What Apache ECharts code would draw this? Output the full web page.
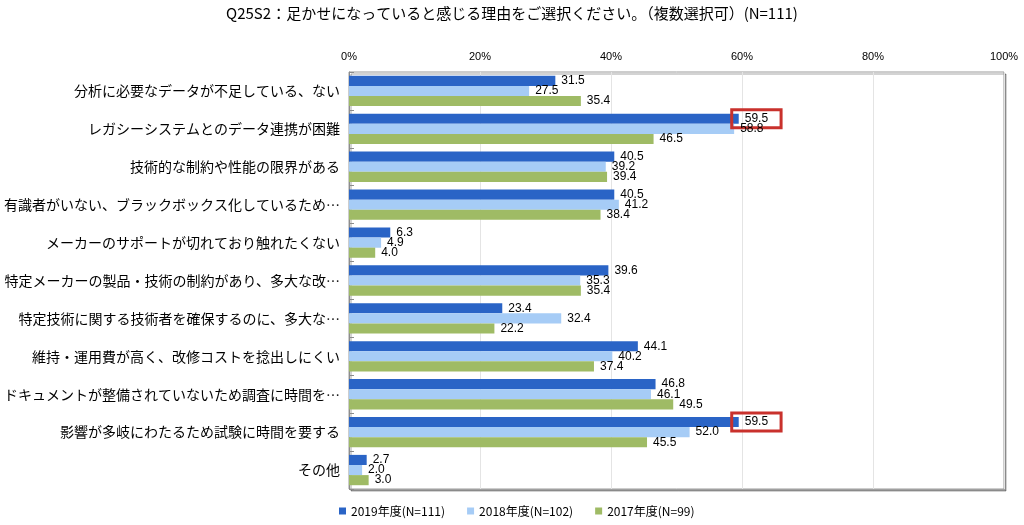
<!DOCTYPE html>
<html>
<head>
<meta charset="utf-8">
<script src="https://cdn.jsdelivr.net/npm/echarts@6/dist/echarts.min.js"></script>
<style>html,body{margin:0;padding:0;background:#fff;}#c{width:1024px;height:525px;}</style>
</head>
<body>
<div id="c"></div>
<script>
const categories = [
  '分析に必要なデータが不足している、ない',
  'レガシーシステムとのデータ連携が困難',
  '技術的な制約や性能の限界がある',
  '有識者がいない、ブラックボックス化しているため…',
  'メーカーのサポートが切れており触れたくない',
  '特定メーカーの製品・技術の制約があり、多大な改…',
  '特定技術に関する技術者を確保するのに、多大な…',
  '維持・運用費が高く、改修コストを捻出しにくい',
  'ドキュメントが整備されていないため調査に時間を…',
  '影響が多岐にわたるため試験に時間を要する',
  'その他'
];
const seriesNames = ['2019年度(N=111)', '2018年度(N=102)', '2017年度(N=99)'];
const v2019 = [31.5, 59.5, 40.5, 40.5, 6.3, 39.6, 23.4, 44.1, 46.8, 59.5, 2.7];
const v2018 = [27.5, 58.8, 39.2, 41.2, 4.9, 35.3, 32.4, 40.2, 46.1, 52.0, 2.0];
const v2017 = [35.4, 46.5, 39.4, 38.4, 4.0, 35.4, 22.2, 37.4, 49.5, 45.5, 3.0];
const highlighted = [1, 9];
const xTicks = [0, 20, 40, 60, 80, 100];

const FONT = '"Noto Sans CJK JP", sans-serif';
const NUMFONT = '"Liberation Sans", Arial, sans-serif';
const colors = ['#2a64c6', '#a6ccf6', '#9fbb65'];

function mk(vals, idx) {
  return vals.map((v, i) => {
    if (idx === 0 && highlighted.indexOf(i) >= 0) {
      return {
        value: v,
        label: {
          borderColor: '#c9312c', borderWidth: 3,
          padding: [3, 13, 3, 13], offset: [-13, 0]
        }
      };
    }
    return v;
  });
}

const chart = echarts.init(document.getElementById('c'));
chart.setOption({
  animation: false,
  textStyle: { fontFamily: FONT },
  title: {
    text: 'Q25S2：足かせになっていると感じる理由をご選択ください。（複数選択可）(N=111)',
    left: 'center', top: 1,
    textStyle: { fontFamily: FONT, fontSize: 15, fontWeight: 'normal', color: '#000' }
  },
  legend: {
    bottom: 3, left: 334,
    icon: 'rect', itemWidth: 7, itemHeight: 7, itemGap: 22,
    textStyle: { fontFamily: FONT, fontSize: 12, color: '#000' },
    data: seriesNames
  },
  grid: {
    left: 349, right: 20, top: 72, bottom: 36,
    show: true, borderColor: '#9a9a9a', borderWidth: 1,
    backgroundColor: '#fff',
    shadowColor: 'rgba(0,0,0,0.35)', shadowOffsetX: 2, shadowOffsetY: 2, shadowBlur: 0
  },
  xAxis: {
    type: 'value', position: 'top', min: 0, max: 100, interval: 20,
    axisLine: { show: false }, axisTick: { show: false },
    axisLabel: { formatter: v => xTicks.indexOf(v) >= 0 ? v + '%' : '', fontSize: 11, color: '#000', margin: 10, fontFamily: NUMFONT },
    splitLine: { lineStyle: { color: '#e4e4e4' } }
  },
  yAxis: {
    type: 'category', inverse: true, data: categories,
    axisLine: { show: true, lineStyle: { color: '#8c8c8c' } },
    axisTick: { show: true, inside: true, length: 5, lineStyle: { color: '#8c8c8c' } },
    axisLabel: { fontSize: 14, color: '#000', margin: 9 }
  },
  series: [v2019, v2018, v2017].map((vals, idx) => ({
    name: seriesNames[idx],
    type: 'bar',
    data: mk(vals, idx),
    itemStyle: { color: colors[idx] },
    barGap: '0%',
    barCategoryGap: '20%',
    label: {
      show: true, position: 'right', distance: 6,
      formatter: p => Number(p.value).toFixed(1),
      fontSize: 12, color: '#000', fontFamily: NUMFONT
    }
  }))
});
</script>
</body>
</html>
